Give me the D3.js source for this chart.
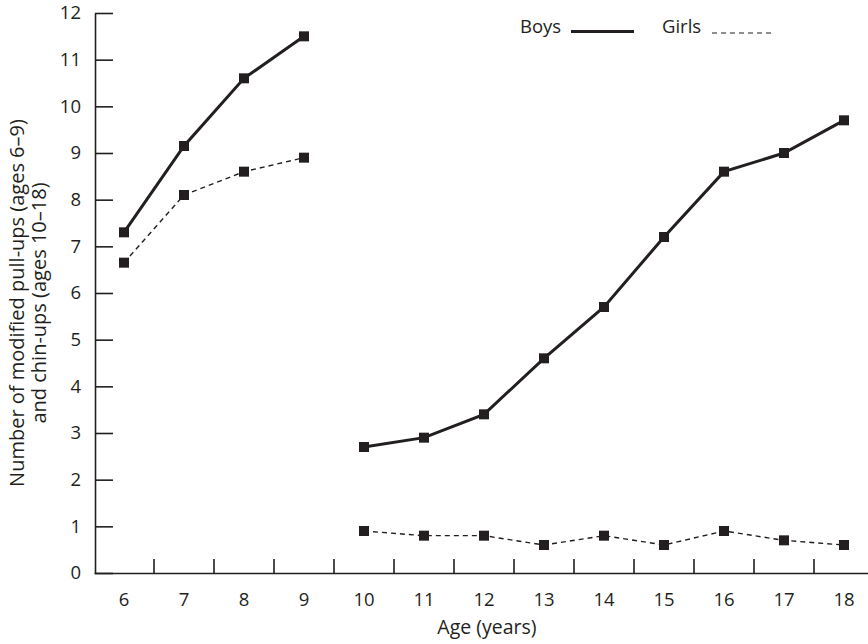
<!DOCTYPE html>
<html>
<head>
<meta charset="utf-8">
<script src="https://cdn.jsdelivr.net/npm/d3@7"></script>
<style>
  html, body { margin: 0; padding: 0; background: #fff; }
  svg { display: block; font-family: "Open Sans", "Noto Sans", sans-serif; }
</style>
</head>
<body>
<svg id="chart" width="868" height="644"></svg>
<script>
// Ages tested (6–9: modified pull-ups, 10–18: chin-ups)
const ages = [6, 7, 8, 9, 10, 11, 12, 13, 14, 15, 16, 17, 18];
const boys = [7.3, 9.15, 10.6, 11.5, 2.7, 2.9, 3.4, 4.6, 5.7, 7.2, 8.6, 9.0, 9.7];
const girls = [6.65, 8.1, 8.6, 8.9, 0.9, 0.8, 0.8, 0.6, 0.8, 0.6, 0.9, 0.7, 0.6];
const yTicks = [0, 1, 2, 3, 4, 5, 6, 7, 8, 9, 10, 11, 12];
const seriesNames = ["Boys", "Girls"];

const ink = "#231f20";
const fontSize = "18.5px";
const svg = d3.select("#chart");

const x = d3.scaleBand().domain(ages).range([94, 874]).padding(0);
const y = d3.scaleLinear().domain([0, 12]).range([573, 13]);
const cx = a => x(a) + x.bandwidth() / 2;

// Which test was used at each age: the line breaks between the two tests
const testOf = a => (a <= 9 ? "pull" : "chin");

// Y axis with inward ticks
const yAxis = svg.append("g")
  .attr("transform", "translate(95,0)")
  .call(d3.axisLeft(y).tickValues(yTicks).tickSize(-18).tickSizeOuter(0).tickPadding(14));
yAxis.select(".domain").attr("stroke", ink).attr("stroke-width", 1.6);
yAxis.selectAll(".tick line").attr("stroke", ink).attr("stroke-width", 1.6);
yAxis.selectAll(".tick text")
  .attr("fill", ink).style("font-size", fontSize).style("font-family", "'Open Sans', sans-serif");

// X axis: labels centred in each age band, ticks on band edges
const xAxis = svg.append("g")
  .attr("transform", "translate(0,573)")
  .call(d3.axisBottom(x).tickSize(0).tickPadding(20));
xAxis.select(".domain").attr("stroke", ink).attr("stroke-width", 1.6);
xAxis.selectAll(".tick text")
  .attr("fill", ink).style("font-size", fontSize).style("font-family", "'Open Sans', sans-serif");
svg.append("g").selectAll("line")
  .data(ages.slice(1))
  .join("line")
  .attr("x1", d => x(d)).attr("x2", d => x(d))
  .attr("y1", 573).attr("y2", 559)
  .attr("stroke", ink).attr("stroke-width", 1.6);

// Axis titles
svg.append("text")
  .attr("x", 487).attr("y", 634)
  .attr("text-anchor", "middle")
  .attr("fill", ink).style("font-size", "19.5px")
  .text("Age (years)");

const yTitle = svg.append("text")
  .attr("transform", "translate(0,303) rotate(-90)")
  .attr("text-anchor", "middle")
  .attr("fill", ink).style("font-size", "20px");
yTitle.append("tspan").attr("x", 0).attr("y", 24).text("Number of modified pull-ups (ages 6–9)");
yTitle.append("tspan").attr("x", 0).attr("y", 46).text("and chin-ups (ages 10–18)");

// Series
const series = [
  { name: seriesNames[0], values: boys, width: 3, dash: null },
  { name: seriesNames[1], values: girls, width: 1.4, dash: "5,4" }
];

const line = d3.line().x(d => cx(d.age)).y(d => y(d.v));

series.forEach(s => {
  const pts = ages.map((a, i) => ({ age: a, v: s.values[i] }));
  const groups = d3.groups(pts, d => testOf(d.age));
  const g = svg.append("g");
  g.selectAll("path")
    .data(groups)
    .join("path")
    .attr("d", d => line(d[1]))
    .attr("fill", "none")
    .attr("stroke", ink)
    .attr("stroke-width", s.width)
    .attr("stroke-dasharray", s.dash);
  g.selectAll("rect")
    .data(pts)
    .join("rect")
    .attr("x", d => cx(d.age) - 5)
    .attr("y", d => y(d.v) - 5)
    .attr("width", 10).attr("height", 10)
    .attr("fill", ink);
});

// Legend
const legend = svg.append("g");
legend.append("text").attr("x", 520).attr("y", 33)
  .attr("fill", ink).style("font-size", fontSize).text(seriesNames[0]);
legend.append("line").attr("x1", 571).attr("x2", 634).attr("y1", 31.5).attr("y2", 31.5)
  .attr("stroke", ink).attr("stroke-width", 3);
legend.append("text").attr("x", 662).attr("y", 33)
  .attr("fill", ink).style("font-size", fontSize).text(seriesNames[1]);
legend.append("line").attr("x1", 712).attr("x2", 772).attr("y1", 33).attr("y2", 33)
  .attr("stroke", ink).attr("stroke-width", 1.2).attr("stroke-dasharray", "5,4");
</script>
</body>
</html>
